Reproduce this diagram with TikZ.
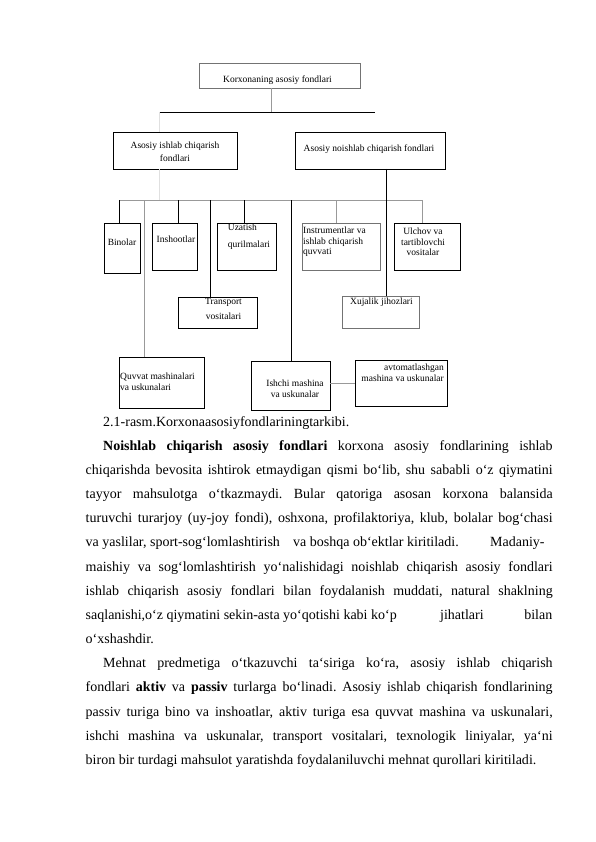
\documentclass[tikz,border=0pt]{standalone}
\usepackage{fontspec}
\setmainfont{Liberation Serif}
\frenchspacing
\begin{document}
\begin{tikzpicture}[x=1pt,y=-1pt,
  box/.style={draw=black, line width=0.75pt, fill=white, inner sep=0pt, outer sep=0pt},
  gbox/.style={box, draw=black!55},
  conn/.style={line width=0.75pt, draw=black},
  gconn/.style={line width=0.6pt, draw=black!40},
  fconn/.style={line width=0.4pt, draw=black!12},
  lbl/.style={inner sep=0pt, font=\fontsize{9.5}{11}\selectfont},
  txt/.style={inner sep=0pt, anchor=base west, font=\fontsize{14}{17}\selectfont}]

\path[use as bounding box, fill=white] (0,0) rectangle (595,842);

% ---------- boxes ----------
\node[gbox, minimum width=161pt, minimum height=25pt] (top) at (279.5,75.5) {};
\node[box, minimum width=124pt, minimum height=37pt] (ipf) at (175,150.5) {};
\node[box, minimum width=150pt, minimum height=37pt] (npf) at (370,150.5) {};
\node[box, minimum width=36pt, minimum height=50pt] (bin) at (122,248) {};
\node[box, minimum width=45pt, minimum height=47pt] (insh) at (174.5,246.5) {};
\node[box, minimum width=59pt, minimum height=47pt] (uza) at (246.5,246.5) {};
\node[gbox, minimum width=78pt, minimum height=47pt] (ins) at (341,246.5) {};
\node[box, minimum width=66pt, minimum height=47pt] (ulc) at (427,246.5) {};
\node[box, minimum width=79pt, minimum height=31pt] (tra) at (217.5,312.5) {};
\node[gbox, minimum width=77pt, minimum height=32pt] (xuj) at (380.5,312) {};
\node[box, minimum width=85pt, minimum height=51pt] (quv) at (161.5,382.5) {};
\node[box, minimum width=79pt, minimum height=48.5pt] (ish) at (290.5,385.75) {};
\node[box, minimum width=92pt, minimum height=46pt] (avt) at (401,383) {};

% ---------- labels ----------
\node[lbl] (ltop) at (277.5,80) {Korxonaning asosiy fondlari};
\node[lbl, align=center, font=\fontsize{9.5}{13}\selectfont] (lipf) at (175,151.5) {Asosiy ishlab chiqarish\\fondlari};
\node[lbl] (lnpf) at (369,149) {Asosiy noishlab chiqarish fondlari};
\node[lbl] (lbin) at (122,242) {Binolar};
\node[lbl] (linsh) at (176,239) {Inshootlar};
\node[lbl, align=left, font=\fontsize{9.5}{17}\selectfont] (luza) at (249,236.5) {Uzatish\\qurilmalari};
\node[lbl, align=left, anchor=west, font=\fontsize{9.5}{10.3}\selectfont] (lins) at (303,242) {Instrumentlar va\\ishlab chiqarish\\quvvati};
\node[lbl, align=center, font=\fontsize{9.5}{10.3}\selectfont] (lulc) at (423,242) {Ulchov va\\tartiblovchi\\vositalar};
\node[lbl, align=center, font=\fontsize{9.5}{15}\selectfont] (ltra) at (223.5,308.5) {Transport\\vositalari};
\node[lbl] (lxuj) at (381.5,302) {Xujalik jihozlari};
\node[lbl, align=left, anchor=west] (lquv) at (120,381.5) {Quvvat mashinalari\\va uskunalari};
\node[lbl, align=center] (lish) at (295,389) {Ishchi mashina\\va uskunalar};
\node[lbl, align=right, anchor=east] (lavt) at (444,373) {avtomatlashgan\\mashina va uskunalar};

% ---------- connector coordinates ----------
\coordinate (j0) at (271,112);
\coordinate (hL) at (159,112);
\coordinate (hR) at (375,112);
\coordinate (bL) at (119,200.5);
\coordinate (bR) at (422,200.5);
\coordinate (bF) at (159,200.5);
\coordinate (bQ) at (144,200.5);
\coordinate (bI) at (178,200.5);
\coordinate (bT) at (210,200.5);
\coordinate (bU) at (244,200.5);
\coordinate (bS) at (291,200.5);
\coordinate (bN) at (336,200.5);
\coordinate (nv) at (386.7,0);

% ---------- connectors ----------
\draw[gconn] (top.south -| j0) -- (j0);
\draw[conn] (hL) -- (hR);
\draw[fconn] (hL) -- (ipf.north -| hL);
\draw[fconn] (ipf.south -| hL) -- (bF);
\draw[gconn] (bL) -- (bR);
\draw[conn] (bL) -- (bin.north -| bL);
\draw[gconn] (bQ) -- (quv.north -| bQ);
\draw[conn] (bI) -- (insh.north -| bI);
\draw[conn] (bT) -- (tra.north -| bT);
\draw[conn] (bU) -- (uza.north -| bU);
\draw[conn] (bS) -- (ish.north -| bS);
\draw[gconn] (bN) -- (ins.north -| bN);
\draw[gconn] (bR) -- (ulc.north -| bR);
\draw[conn] (npf.south -| nv) -- (xuj.north -| nv);
\draw[gconn] (ish.east |- avt.west) -- (avt.west);

% ---------- text ----------
\node[txt] (t0) at (103,426.2) {2.1-rasm.Korxonaasosiyfondlariningtarkibi.};
\node[txt] (t1) at (103,450.35) {\makebox[449.5pt][s]{\textbf{Noishlab chiqarish asosiy fondlari} korxona asosiy fondlarining ishlab}};
\node[txt] (t2) at (85.5,474.5) {\makebox[467pt][s]{chiqarishda bevosita ishtirok etmaydigan qismi bo‘lib, shu sababli o‘z qiymatini}};
\node[txt] (t3) at (85.5,498.65) {\makebox[467pt][s]{tayyor mahsulotga o‘tkazmaydi. Bular qatoriga asosan korxona balansida}};
\node[txt] (t4) at (85.5,522.8) {\makebox[467pt][s]{turuvchi turarjoy (uy-joy fondi), oshxona, profilaktoriya, klub, bolalar bog‘chasi}};
\node[txt] (t5a) at (85.5,546.95) {va yaslilar, sport-sog‘lomlashtirish};
\node[txt] (t5b) at (293,546.95) {va boshqa ob‘ektlar kiritiladi.};
\node[txt] (t5c) at (490,546.95) {Madaniy-};
\node[txt] (t6) at (85.5,571.1) {\makebox[467pt][s]{maishiy va sog‘lomlashtirish yo‘nalishidagi noishlab chiqarish asosiy fondlari}};
\node[txt] (t7) at (85.5,595.25) {\makebox[467pt][s]{ishlab chiqarish asosiy fondlari bilan foydalanish muddati, natural shaklning}};
\node[txt] (t8a) at (85.5,619.4) {saqlanishi,o‘z qiymatini sekin-asta yo‘qotishi kabi ko‘p};
\node[txt] (t8b) at (440,619.4) {jihatlari};
\node[txt, anchor=base east] (t8c) at (552.5,619.4) {bilan};
\node[txt] (t9) at (85.5,643.55) {o‘xshashdir.};
\node[txt] (t10) at (103,667.7) {\makebox[449.5pt][s]{Mehnat predmetiga o‘tkazuvchi ta‘siriga ko‘ra, asosiy ishlab chiqarish}};
\node[txt] (t11) at (85.5,691.85) {\makebox[467pt][s]{fondlari \textbf{aktiv} va \textbf{passiv} turlarga bo‘linadi. Asosiy ishlab chiqarish fondlarining}};
\node[txt] (t12) at (85.5,716) {\makebox[467pt][s]{passiv turiga bino va inshoatlar, aktiv turiga esa quvvat mashina va uskunalari,}};
\node[txt] (t13) at (85.5,740.15) {\makebox[467pt][s]{ishchi mashina va uskunalar, transport vositalari, texnologik liniyalar, ya‘ni}};
\node[txt] (t14) at (85.5,764.3) {biron bir turdagi mahsulot yaratishda foydalaniluvchi mehnat qurollari kiritiladi.};
\end{tikzpicture}
\end{document}
